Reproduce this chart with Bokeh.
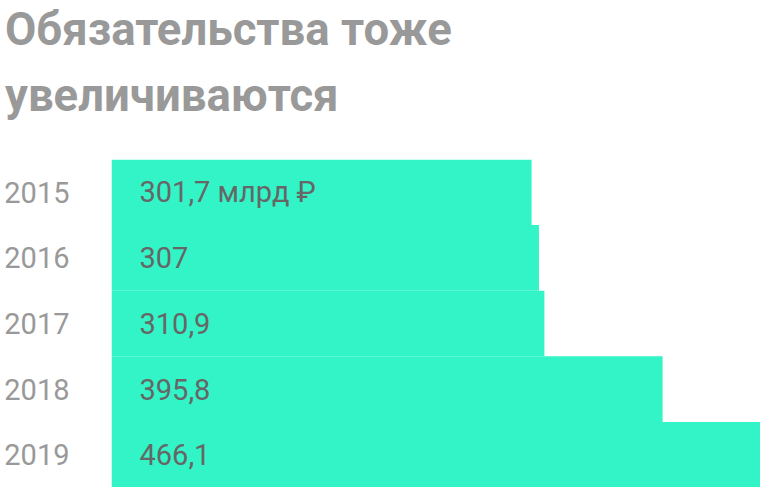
from bokeh.plotting import figure
from bokeh.models import Range1d, FactorRange, Div
from bokeh.layouts import column
from bokeh.embed import file_html
from bokeh.resources import INLINE
from bokeh.core.properties import value

years = ["2015", "2016", "2017", "2018", "2019"]
values = [301.7, 307.0, 310.9, 395.8, 466.1]
labels = ["301,7 млрд ₽", "307", "310,9", "395,8", "466,1"]
title_lines = ["Обязательства тоже", "увеличиваются"]

title = Div(text="<br>".join(title_lines), width=760, height=157,
            styles={"font-family": "Roboto", "font-weight": "700", "font-size": "45.5px",
                    "line-height": "66px", "color": "#999999", "white-space": "nowrap",
                    "margin-top": "-3px"})

p = figure(width=760, height=328, output_backend="svg", toolbar_location=None,
           title_location=None,
           x_range=Range1d(0, 466.1), y_range=FactorRange(factors=years[::-1], range_padding=0),
           min_border_left=111, min_border_right=0, min_border_top=0, min_border_bottom=0)

p.hbar(y=years, right=values, left=0, height=1.0, color="#33f4c6", line_color=None)
p.text(x=[0] * len(years), y=years, text=labels, x_offset=28,
       text_font=value("Roboto"), text_font_size="29px", text_color="#666666",
       text_baseline="middle", text_align="left")

p.xaxis.visible = False
p.yaxis.axis_line_color = None
p.yaxis.major_tick_line_color = None
p.yaxis.minor_tick_line_color = None
p.yaxis.major_tick_out = 0
p.yaxis.major_tick_in = 0
p.yaxis.major_label_text_font = "Roboto"
p.yaxis.major_label_text_font_size = "29px"
p.yaxis.major_label_text_color = "#999999"
p.yaxis.major_label_standoff = 42
p.xgrid.visible = False
p.ygrid.visible = False
p.outline_line_color = None
p.background_fill_color = "white"
p.border_fill_color = "white"

layout = column(title, p, spacing=0)
open("out.html", "w").write(file_html(layout, INLINE))
